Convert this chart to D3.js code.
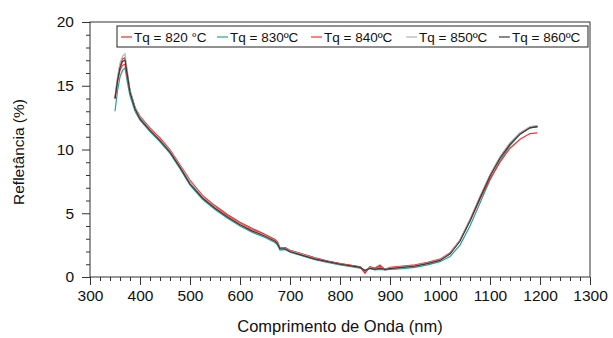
<!DOCTYPE html>
<html>
<head>
<meta charset="utf-8">
<script src="https://cdn.jsdelivr.net/npm/d3@7"></script>
<style>
  body { margin: 0; background: #fff; }
  text { font-family: "Liberation Sans", Arial, sans-serif; fill: #111; }
</style>
</head>
<body>
<script>
// wavelength grid (nm)
var wavelengths = [350, 355, 360, 365, 370, 375, 380, 390, 400, 420, 440, 460, 480, 500, 525, 550, 575, 600, 625, 650,
  670, 675, 680, 690, 700, 725, 750, 775, 800, 825, 840, 850, 860, 870, 880, 890, 900, 925, 950, 975,
  1000, 1020, 1040, 1060, 1080, 1100, 1120, 1140, 1160, 1180, 1195];

// reflectance (%) per quench temperature
var r820 = [14.0, 15.5, 16.6, 17.1, 17.2, 15.8, 14.6, 13.3, 12.5, 11.6, 10.8, 9.9, 8.7, 7.5, 6.3, 5.5, 4.8, 4.2, 3.7, 3.3,
  2.9, 2.7, 2.3, 2.3, 2.1, 1.8, 1.5, 1.25, 1.05, 0.9, 0.8, 0.3, 0.8, 0.65, 0.85, 0.55, 0.7, 0.8, 0.9, 1.1,
  1.35, 1.85, 2.9, 4.5, 6.3, 8.0, 9.4, 10.5, 11.3, 11.75, 11.8];
var r830 = [13.0, 14.6, 15.7, 16.2, 16.4, 15.2, 14.2, 13.0, 12.3, 11.4, 10.6, 9.7, 8.5, 7.2, 6.1, 5.3, 4.6, 4.0, 3.5, 3.1,
  2.7, 2.5, 2.1, 2.15, 1.95, 1.65, 1.35, 1.15, 0.95, 0.8, 0.7, 0.5, 0.65, 0.55, 0.6, 0.55, 0.6, 0.65, 0.75, 0.95,
  1.2, 1.6, 2.5, 4.0, 5.8, 7.6, 9.1, 10.3, 11.2, 11.7, 11.8];
var r840 = [14.0, 15.3, 16.2, 16.6, 16.7, 15.6, 14.6, 13.3, 12.6, 11.7, 10.9, 10.0, 8.8, 7.6, 6.4, 5.6, 4.9, 4.3, 3.8, 3.35,
  2.95, 2.75, 2.3, 2.3, 2.1, 1.8, 1.5, 1.25, 1.05, 0.9, 0.8, 0.45, 0.8, 0.7, 0.95, 0.6, 0.75, 0.85, 0.95, 1.15,
  1.4, 1.9, 2.9, 4.4, 6.1, 7.7, 9.0, 10.1, 10.8, 11.25, 11.3];
var r850 = [14.2, 15.7, 16.8, 17.3, 17.5, 16.1, 14.7, 13.3, 12.5, 11.6, 10.8, 9.9, 8.7, 7.5, 6.3, 5.45, 4.75, 4.15, 3.65, 3.25,
  2.85, 2.65, 2.25, 2.25, 2.05, 1.75, 1.45, 1.2, 1.0, 0.85, 0.75, 0.5, 0.75, 0.6, 0.75, 0.6, 0.7, 0.8, 0.9, 1.1,
  1.35, 1.85, 2.9, 4.5, 6.3, 8.0, 9.4, 10.5, 11.3, 11.8, 11.9];
var r860 = [14.0, 15.4, 16.4, 16.9, 17.0, 15.8, 14.5, 13.2, 12.4, 11.5, 10.7, 9.8, 8.6, 7.3, 6.2, 5.4, 4.7, 4.1, 3.6, 3.2,
  2.8, 2.6, 2.2, 2.2, 2.0, 1.7, 1.4, 1.2, 1.0, 0.85, 0.75, 0.5, 0.7, 0.6, 0.7, 0.6, 0.65, 0.75, 0.85, 1.05,
  1.3, 1.8, 2.8, 4.4, 6.2, 7.9, 9.3, 10.4, 11.2, 11.7, 11.8];

var seriesNames = ["Tq = 820 °C", "Tq = 830ºC", "Tq = 840ºC", "Tq = 850ºC", "Tq = 860ºC"];
var seriesColors = ["#e0302a", "#2a9d9a", "#ff2b2b", "#b4b4b4", "#3a3a3a"];
var seriesValues = [r820, r830, r840, r850, r860];

var xTicks = [300, 400, 500, 600, 700, 800, 900, 1000, 1100, 1200, 1300];
var yTicks = [0, 5, 10, 15, 20];

var W = 613, H = 338;
var m = { left: 90, right: 590, top: 22, bottom: 277 };

var svg = d3.select("body").append("svg")
  .attr("width", W)
  .attr("height", H);

var x = d3.scaleLinear().domain([300, 1300]).range([m.left, m.right]);
var y = d3.scaleLinear().domain([0, 20]).range([m.bottom, m.top]);

// frame
svg.append("rect")
  .attr("x", m.left).attr("y", m.top)
  .attr("width", m.right - m.left).attr("height", m.bottom - m.top)
  .attr("fill", "none").attr("stroke", "#333").attr("stroke-width", 1);

// minor ticks
var xMinor = d3.range(300, 1301, 20).filter(function(v) { return v % 100 !== 0; });
var yMinor = d3.range(0, 21, 1).filter(function(v) { return v % 5 !== 0; });

svg.append("g")
  .attr("transform", "translate(0," + m.bottom + ")")
  .call(d3.axisBottom(x).tickValues(xMinor).tickSize(4).tickFormat(""))
  .call(function(g) { g.select(".domain").remove(); });
svg.append("g")
  .attr("transform", "translate(" + m.left + ",0)")
  .call(d3.axisLeft(y).tickValues(yMinor).tickSize(4).tickFormat(""))
  .call(function(g) { g.select(".domain").remove(); });

// major ticks + labels
var xAxis = svg.append("g")
  .attr("transform", "translate(0," + m.bottom + ")")
  .call(d3.axisBottom(x).tickValues(xTicks).tickSize(8).tickPadding(5).tickFormat(d3.format("d")));
xAxis.select(".domain").remove();
xAxis.selectAll("text").style("font-size", "15.5px").style("font-family", "Liberation Sans, Arial, sans-serif");

var yAxis = svg.append("g")
  .attr("transform", "translate(" + m.left + ",0)")
  .call(d3.axisLeft(y).tickValues(yTicks).tickSize(8).tickPadding(8));
yAxis.select(".domain").remove();
yAxis.selectAll("text").style("font-size", "15.5px").style("font-family", "Liberation Sans, Arial, sans-serif");

svg.selectAll(".tick line").attr("stroke", "#333");

// axis titles
svg.append("text")
  .attr("x", 340)
  .attr("y", 332)
  .attr("text-anchor", "middle")
  .style("font-size", "16.5px")
  .text("Comprimento de Onda (nm)");

svg.append("text")
  .attr("transform", "translate(24," + 152 + ") rotate(-90)")
  .attr("text-anchor", "middle")
  .style("font-size", "15.5px")
  .text("Refletância (%)");

// curves
var line = d3.line()
  .x(function(d, i) { return x(wavelengths[i]); })
  .y(function(d) { return y(d); });

seriesValues.forEach(function(vals, k) {
  svg.append("path")
    .datum(vals)
    .attr("d", line)
    .attr("fill", "none")
    .attr("stroke", seriesColors[k])
    .attr("stroke-width", 1.2);
});

// legend
var legend = svg.append("g");
legend.append("rect")
  .attr("x", 117).attr("y", 26)
  .attr("width", 471).attr("height", 21)
  .attr("fill", "#fff").attr("stroke", "#222").attr("stroke-width", 1);

var legendX = [121, 217, 311, 406, 499];
seriesNames.forEach(function(name, k) {
  legend.append("line")
    .attr("x1", legendX[k]).attr("x2", legendX[k] + 11)
    .attr("y1", 37).attr("y2", 37)
    .attr("stroke", seriesColors[k]).attr("stroke-width", 1.2);
  legend.append("text")
    .attr("x", legendX[k] + 13)
    .attr("y", 42)
    .style("font-size", "13.5px")
    .text(name);
});
</script>
</body>
</html>
